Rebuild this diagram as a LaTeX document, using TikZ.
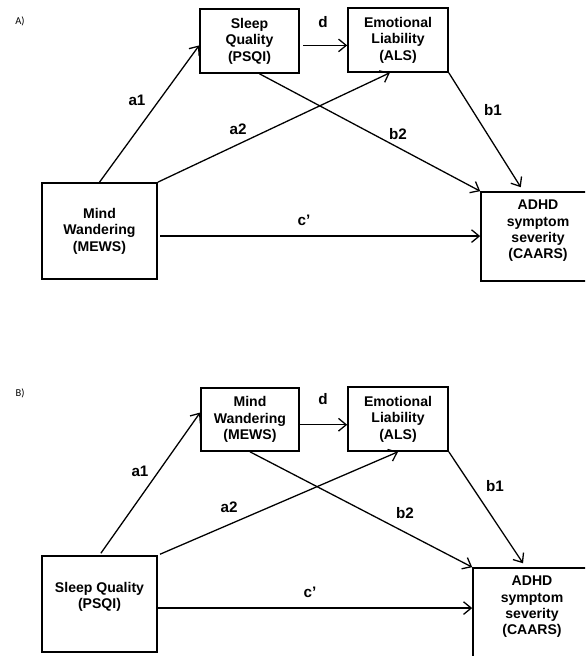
\documentclass[tikz,border=0pt]{standalone}
\usepackage{fontspec}
\setmainfont{Liberation Sans}
\newfontfamily\panelfont{Carlito}
\usetikzlibrary{arrows.meta}
\begin{document}
\begin{tikzpicture}[x=0.03cm,y=-0.03cm,
    box/.style={draw, line width=1.4pt, align=center, inner sep=0pt,
      font=\bfseries\fontsize{12}{14}\selectfont},
    lbl/.style={font=\bfseries\fontsize{13}{15}\selectfont},
    panel/.style={font=\panelfont\fontsize{9}{11}\selectfont},
    arr/.style={-{Straight Barb[length=2.3mm,width=3.8mm]}, line width=1.1pt}]
      \clip (0,0) rectangle (585,656);
      \draw
        (20,21) node[panel] (pA){A)}
        (249.5,41) node[box, minimum width=2.97cm, minimum height=1.92cm] (sqA){Sleep\\Quality\\(PSQI)}
        (398,40) node[box, minimum width=3cm, minimum height=1.92cm] (elA){Emotional\\Liability\\(ALS)}
        (99.5,231) node[box, minimum width=3.45cm, minimum height=2.88cm] (mwA){Mind\\Wandering\\(MEWS)}
        (538,236.5) node[box, minimum width=3.42cm, minimum height=2.67cm, text depth=12pt] (adhdA){ADHD\\symptom\\severity\\(CAARS)};
      \draw
        (20,393) node[panel] (pB){B)}
        (250,419.5) node[box, minimum width=2.94cm, minimum height=1.89cm] (mwB){Mind\\Wandering\\(MEWS)}
        (398,419) node[box, minimum width=3cm, minimum height=1.92cm] (elB){Emotional\\Liability\\(ALS)}
        (99.5,604) node[box, minimum width=3.45cm, minimum height=2.88cm, text depth=14.5pt] (sqB){Sleep Quality\\(PSQI)}
        (532,612.5) node[box, minimum width=3.54cm, minimum height=2.67cm, text depth=12pt] (adhdB){ADHD\\symptom\\severity\\(CAARS)};
      \draw
        (323,22) node[lbl] (dA){d}
        (137,100) node[lbl] (a1A){a1}
        (238,129) node[lbl] (a2A){a2}
        (398,134) node[lbl] (b2A){b2}
        (493,110) node[lbl] (b1A){b1}
        (304,220) node[lbl] (cA){c’}
        (323,399) node[lbl] (dB){d}
        (140,471) node[lbl] (a1B){a1}
        (229,507) node[lbl] (a2B){a2}
        (405,513) node[lbl] (b2B){b2}
        (495,486) node[lbl] (b1B){b1}
        (310,592) node[lbl] (cB){c’};
      \begin{scope}[arr]
        \draw (mwA.north) to (sqA.185);
        \draw[shorten <=3pt] (sqA.-5) to (sqA.-5 -| elA.west);
        \draw (mwA.north east) to (elA.256);
        \draw (sqA.287) to (adhdA.north west);
        \draw[shorten >=4pt] (elA.south east) to (adhdA.108);
        \draw[shorten <=2pt] (mwA.-5) to (mwA.-5 -| adhdA.west);
        \draw[shorten <=2pt] (sqB.north) to (mwB.172);
        \draw (mwB.-6) to (mwB.-6 -| elB.west);
        \draw[shorten <=2pt] (sqB.north east) to (elB.south);
        \draw (mwB.south) to (adhdB.north west);
        \draw[shorten >=4pt] (elB.south east) to (adhdB.98);
        \draw (sqB.-4) to (sqB.-4 -| adhdB.west);
      \end{scope}
    \end{tikzpicture}
\end{document}
